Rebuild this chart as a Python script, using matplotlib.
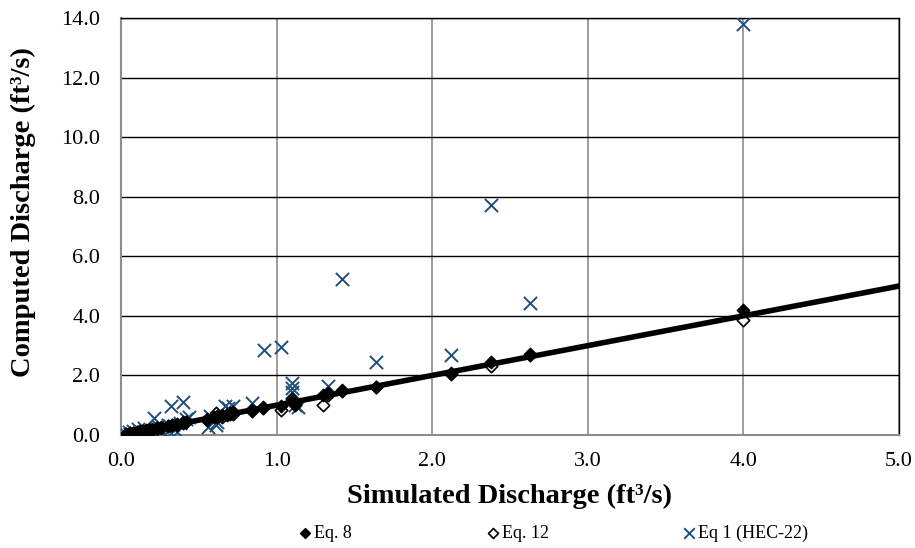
import numpy as np
import matplotlib
matplotlib.use("Agg")
import matplotlib.pyplot as plt

plt.rcParams['font.family'] = ['Liberation Serif', 'DejaVu Serif']

# Eq. 8 (filled diamonds)
eq8_x = [0.03, 0.05, 0.06, 0.08, 0.10, 0.12, 0.14, 0.16, 0.18, 0.20, 0.23, 0.26,
         0.30, 0.33, 0.36, 0.40, 0.42, 0.55, 0.60, 0.62, 0.65, 0.68, 0.70, 0.72,
         0.84, 0.91, 1.03, 1.10, 1.12, 1.30, 1.33, 1.42, 1.64, 2.12, 2.38, 2.63, 4.00]
eq8_y = [0.03, 0.05, 0.07, 0.08, 0.10, 0.12, 0.15, 0.17, 0.18, 0.20, 0.24, 0.27,
         0.31, 0.35, 0.37, 0.42, 0.45, 0.55, 0.62, 0.64, 0.67, 0.70, 0.74, 0.76,
         0.83, 0.95, 0.97, 1.15, 1.05, 1.35, 1.40, 1.52, 1.62, 2.08, 2.45, 2.72, 4.18]

# Eq. 12 (open diamonds)
eq12_x = [0.03, 0.05, 0.06, 0.08, 0.10, 0.12, 0.14, 0.16, 0.18, 0.20, 0.23, 0.26,
          0.30, 0.33, 0.36, 0.40, 0.42, 0.55, 0.61, 0.62, 0.65, 0.68, 0.70, 0.72,
          0.84, 0.91, 1.03, 1.10, 1.12, 1.30, 1.33, 1.42, 1.64, 2.12, 2.38, 2.63, 4.00]
eq12_y = [0.02, 0.04, 0.06, 0.07, 0.09, 0.11, 0.13, 0.15, 0.17, 0.18, 0.22, 0.25,
          0.29, 0.32, 0.34, 0.39, 0.42, 0.52, 0.75, 0.60, 0.62, 0.66, 0.70, 0.72,
          0.80, 0.92, 0.85, 1.20, 1.00, 1.02, 1.35, 1.48, 1.60, 2.05, 2.30, 2.68, 3.85]

# Eq 1 (HEC-22) (crosses)
hec_x = [0.03, 0.05, 0.06, 0.08, 0.10, 0.11, 0.13, 0.15, 0.17, 0.19, 0.21, 0.22,
         0.24, 0.26, 0.28, 0.30, 0.32, 0.32, 0.36, 0.38, 0.40, 0.42, 0.44, 0.56,
         0.57, 0.61, 0.62, 0.67, 0.69, 0.72, 0.84, 0.92, 1.03, 1.10, 1.10, 1.10,
         1.14, 1.12, 1.33, 1.42, 1.64, 2.12, 2.38, 2.63, 4.00]
hec_y = [0.02, 0.10, 0.03, 0.15, 0.05, 0.20, 0.08, 0.25, 0.02, 0.12, 0.56, 0.05,
         0.30, 0.10, 0.02, 0.35, 0.98, 0.07, 0.11, 0.40, 1.12, 0.55, 0.59, 0.28,
         0.64, 0.33, 0.45, 0.97, 0.90, 0.97, 1.06, 2.85, 2.95, 1.73, 1.57, 1.45,
         0.95, 1.00, 1.65, 5.25, 2.45, 2.68, 7.72, 4.42, 13.80]

# 1:1 line
line_x = [0.0, 5.0]
line_y = [0.0, 5.0]

fig = plt.figure(figsize=(9.15, 5.48), dpi=100)
ax = fig.add_axes([0.1322, 0.2062, 0.8503, 0.7610])

ax.scatter(hec_x, hec_y, marker='x', s=90, c='#1f4e79', linewidths=1.4,
           label='Eq 1 (HEC-22)', zorder=3)
ax.scatter(eq12_x, eq12_y, marker='D', s=40, facecolors='white', edgecolors='black',
           linewidths=1.2, label='Eq. 12', zorder=4)
ax.scatter(eq8_x, eq8_y, marker='D', s=40, c='black', label='Eq. 8', zorder=5)
ax.plot(line_x, line_y, color='black', lw=4, zorder=6)

ax.set_xlim(0, 5)
ax.set_ylim(0, 14)
ax.set_xticks(np.arange(0, 5.01, 1.0))
ax.set_yticks(np.arange(0, 14.01, 2.0))
ax.set_xticklabels(['%.1f' % v for v in np.arange(0, 5.01, 1.0)])
ax.set_yticklabels(['%.1f' % v for v in np.arange(0, 14.01, 2.0)])
ax.tick_params(length=0, labelsize=16)
ax.tick_params(axis='x', pad=12)
ax.tick_params(axis='y', pad=15)

ax.grid(axis='x', color='#8c8c8c', lw=1.2, zorder=0)
ax.grid(axis='y', color='black', lw=1.0, zorder=0)
ax.set_axisbelow(True)
for s in ['left', 'bottom']:
    ax.spines[s].set_color('#8c8c8c')
    ax.spines[s].set_linewidth(1.5)
for s in ['right', 'top']:
    ax.spines[s].set_color('black')
    ax.spines[s].set_linewidth(1.0)

ax.set_xlabel('Simulated Discharge (ft³/s)', fontsize=20.5, fontweight='bold', va='center')
ax.set_ylabel('Computed Discharge (ft³/s)', fontsize=20.5, fontweight='bold', va='center')
ax.xaxis.set_label_coords(0.5, (435 - 496) / 417)
ax.yaxis.set_label_coords((23 - 121) / 778, 0.535)

h, l = ax.get_legend_handles_labels()
order = [2, 1, 0]
fig.legend([h[i] for i in order], [l[i] for i in order], loc='center',
           bbox_to_anchor=(554 / 915, 1 - 533 / 548), ncol=3, frameon=False,
           fontsize=13, handlelength=0.6, handletextpad=0.2, columnspacing=7.5,
           markerscale=0.8)

fig.savefig('out.png', dpi=100)
